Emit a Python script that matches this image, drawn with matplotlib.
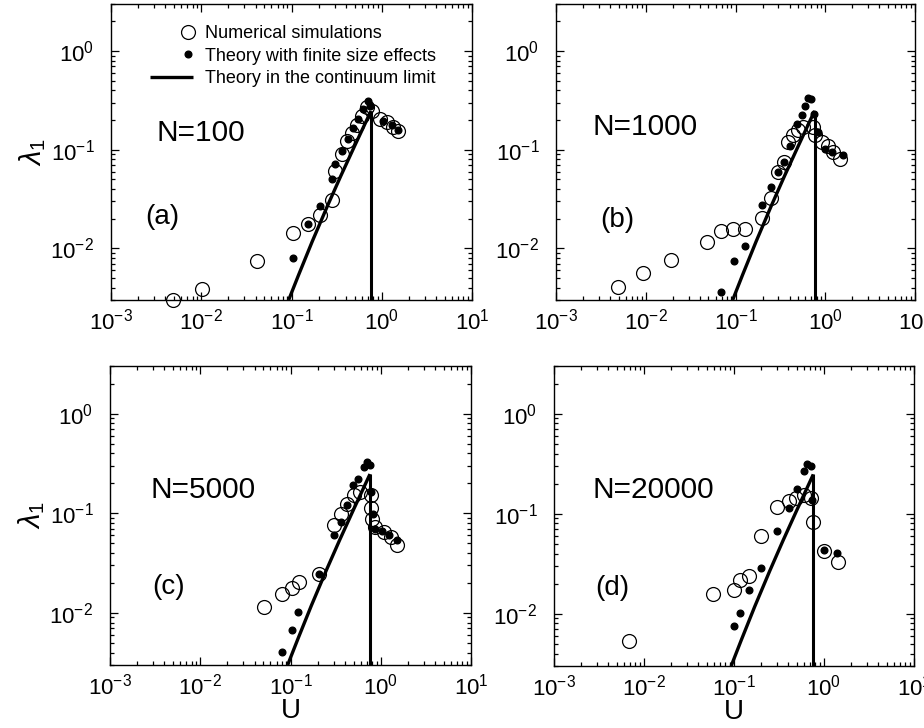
import matplotlib
matplotlib.use("Agg")
import matplotlib.pyplot as plt
from matplotlib.legend_handler import HandlerLine2D

plt.rcParams['font.family'] = ['Liberation Sans', 'DejaVu Sans']
plt.rcParams['mathtext.fontset'] = 'custom'
plt.rcParams['mathtext.rm'] = 'Liberation Sans'
plt.rcParams['mathtext.it'] = 'Liberation Sans:italic'
plt.rcParams['mathtext.bf'] = 'Liberation Sans:bold'

# ---------------- data ----------------
# theory in the continuum limit (shared by all panels)
U_theory = [0.093, 0.12, 0.17, 0.25, 0.35, 0.5, 0.65, 0.76]
lam_theory = [0.003, 0.0054, 0.0118, 0.0269, 0.0537, 0.109, 0.182, 0.247]
U_critical = 0.76
lam_floor = 0.003

# (a) N=100
U_sim_a = [0.0049, 0.0101, 0.041, 0.105, 0.154, 0.207, 0.279, 0.303, 0.36, 0.408,
           0.464, 0.527, 0.6, 0.68, 0.774, 0.955, 1.13, 1.34, 1.53]
lam_sim_a = [0.003, 0.0039, 0.00743, 0.0144, 0.0175, 0.0216, 0.031, 0.061, 0.09, 0.123,
             0.149, 0.18, 0.22, 0.268, 0.248, 0.204, 0.189, 0.172, 0.155]
U_fin_a = [0.105, 0.154, 0.207, 0.279, 0.303, 0.36, 0.419, 0.484, 0.55, 0.625, 0.71,
           0.74, 1.04, 1.29, 1.53]
lam_fin_a = [0.00804, 0.0178, 0.0269, 0.0502, 0.0713, 0.097, 0.13, 0.168, 0.207, 0.258,
             0.313, 0.28, 0.196, 0.177, 0.16]

# (b) N=1000
U_sim_b = [0.00486, 0.0094, 0.0191, 0.0478, 0.0689, 0.0946, 0.128, 0.196, 0.249, 0.3,
           0.347, 0.387, 0.44, 0.5, 0.569, 0.736, 0.76, 0.91, 1.08, 1.23, 1.46]
lam_sim_b = [0.00407, 0.00559, 0.0076, 0.0115, 0.0151, 0.0159, 0.0159, 0.0201, 0.0327, 0.0596,
             0.075, 0.121, 0.14, 0.157, 0.17, 0.17, 0.14, 0.119, 0.11, 0.0946, 0.0813]
U_fin_b = [0.0689, 0.097, 0.128, 0.196, 0.249, 0.3, 0.347, 0.405, 0.48, 0.546, 0.594,
           0.647, 0.70, 0.75, 0.84, 1.0, 1.2, 1.59]
lam_fin_b = [0.00365, 0.00745, 0.0105, 0.0278, 0.042, 0.0596, 0.076, 0.11, 0.183, 0.226, 0.276,
             0.333, 0.33, 0.231, 0.151, 0.102, 0.095, 0.089]

# (c) N=5000
U_sim_c = [0.0506, 0.0807, 0.1026, 0.124, 0.207, 0.303, 0.36, 0.419, 0.506, 0.589,
           0.774, 0.77, 0.807, 0.86, 1.09, 1.29, 1.53]
lam_sim_c = [0.0114, 0.0153, 0.0179, 0.0204, 0.0244, 0.0753, 0.099, 0.125, 0.151, 0.164,
             0.151, 0.114, 0.088, 0.072, 0.0645, 0.0574, 0.0484]
U_fin_c = [0.0807, 0.1026, 0.122, 0.207, 0.303, 0.36, 0.419, 0.497, 0.56, 0.653, 0.71,
           0.76, 0.774, 0.83, 0.86, 1.03, 1.24, 1.5]
lam_fin_c = [0.00409, 0.00678, 0.0101, 0.0244, 0.0606, 0.0814, 0.12, 0.191, 0.223, 0.293, 0.33,
             0.305, 0.164, 0.099, 0.0697, 0.067, 0.06, 0.0533]

# (d) N=20000
U_sim_d = [0.0069, 0.0583, 0.099, 0.1175, 0.148, 0.201, 0.301, 0.406, 0.494, 0.597,
           0.708, 0.757, 0.996, 1.43]
lam_sim_d = [0.00532, 0.0158, 0.0171, 0.0218, 0.0239, 0.0594, 0.118, 0.134, 0.145, 0.155,
             0.145, 0.0817, 0.0428, 0.0326]
U_fin_d = [0.099, 0.1175, 0.148, 0.201, 0.301, 0.406, 0.502, 0.597, 0.65, 0.708, 0.74,
           1.0, 1.41]
lam_fin_d = [0.00745, 0.0102, 0.0171, 0.0284, 0.0673, 0.113, 0.178, 0.267, 0.311, 0.30, 0.138,
             0.0435, 0.0403]

panel_labels = ["(a)", "(b)", "(c)", "(d)"]
N_labels = ["N=100", "N=1000", "N=5000", "N=20000"]
legend_labels = ["Numerical simulations", "Theory with finite size effects",
                 "Theory in the continuum limit"]

sims = [(U_sim_a, lam_sim_a), (U_sim_b, lam_sim_b), (U_sim_c, lam_sim_c), (U_sim_d, lam_sim_d)]
fins = [(U_fin_a, lam_fin_a), (U_fin_b, lam_fin_b), (U_fin_c, lam_fin_c), (U_fin_d, lam_fin_d)]

# ---------------- layout ----------------
W, H = 924, 728
fig = plt.figure(figsize=(W / 100, H / 100), dpi=100)
boxes = [(111, 4, 472, 300), (556, 4, 915, 300), (110, 366, 471, 665), (554, 366, 914, 666)]
N_pos = [(0.127, 0.564), (0.103, 0.584), (0.111, 0.585), (0.108, 0.585)]
P_pos = [(0.094, 0.28), (0.123, 0.27), (0.117, 0.26), (0.114, 0.26)]


class RightMarker(HandlerLine2D):
    """Legend handler that puts the single marker at the right end of the handle."""
    def create_artists(self, legend, orig_handle, xdescent, ydescent, width, height,
                       fontsize, trans):
        arts = super().create_artists(legend, orig_handle, xdescent, ydescent, width,
                                      height, fontsize, trans)
        for a in arts:
            x = list(a.get_xdata())
            if len(x) == 3:
                a.set_xdata([x[0], x[-1] - 4, x[-1]])
        return arts


for i, (l, t, r, b) in enumerate(boxes):
    ax = fig.add_axes([l / W, 1 - b / H, (r - l) / W, (b - t) / H])
    ax.set_xscale('log')
    ax.set_yscale('log')
    ax.set_xlim(1e-3, 1e1)
    ax.set_ylim(3e-3, 3)

    th, = ax.plot(U_theory, lam_theory, color='black', lw=2.4, solid_capstyle='butt')
    ax.plot([U_critical, U_critical], [lam_theory[-1], lam_floor], color='black', lw=2.2,
            solid_capstyle='butt')
    us, ls = sims[i]
    uf, lf = fins[i]
    sim, = ax.plot(us, ls, linestyle='none', marker='o', markersize=10, mfc='none',
                   mec='black', mew=0.9, clip_on=False)
    fin, = ax.plot(uf, lf, linestyle='none', marker='o', markersize=4.8, mfc='black',
                   mec='black', clip_on=False)

    ax.tick_params(which='both', direction='in', top=True, right=True, width=0.9)
    ax.tick_params(which='major', length=6, labelsize=16, pad=6)
    ax.tick_params(axis='y', which='major', pad=12)
    ax.tick_params(which='minor', length=3)
    for s in ax.spines.values():
        s.set_linewidth(1.0)

    ax.text(N_pos[i][0], N_pos[i][1], N_labels[i], transform=ax.transAxes,
            fontsize=21.5, va='center', ha='left')
    ax.text(P_pos[i][0], P_pos[i][1], panel_labels[i], transform=ax.transAxes,
            fontsize=20, va='center', ha='left')

    if i in (0, 2):
        ax.set_ylabel(r'$\lambda_1$', fontsize=21, labelpad=2)
    if i in (2, 3):
        ax.set_xlabel('U', fontsize=20, labelpad=-1)

    if i == 0:
        ax.legend([sim, fin, th], legend_labels, loc='upper left',
                  bbox_to_anchor=(0.108, 0.928), frameon=False, fontsize=13,
                  handlelength=2.4, handletextpad=0.65, borderpad=0, borderaxespad=0,
                  labelspacing=0.3, numpoints=1,
                  handler_map={sim: RightMarker(), fin: RightMarker()})

fig.savefig('out.png', dpi=100)
